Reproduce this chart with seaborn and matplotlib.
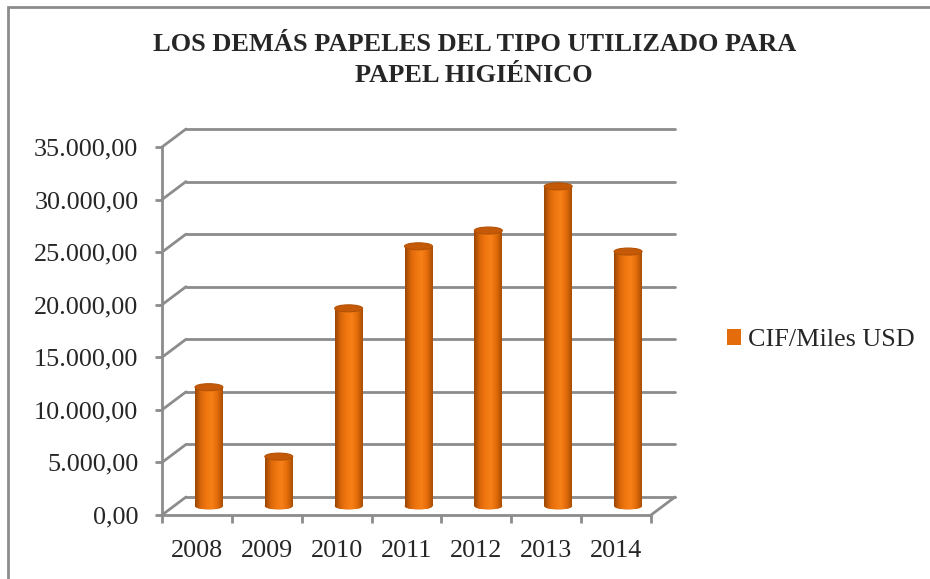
import numpy as np
import matplotlib
matplotlib.use("Agg")
import matplotlib.pyplot as plt
import matplotlib.transforms as mtransforms
from matplotlib.colors import LinearSegmentedColormap
from matplotlib.patches import Ellipse, Patch, Rectangle
import seaborn as sns

# datos
years = ["2008", "2009", "2010", "2011", "2012", "2013", "2014"]
cif_miles_usd = [11300, 4700, 18800, 24700, 26200, 30400, 24200]
y_ticks = [0, 5000, 10000, 15000, 20000, 25000, 30000, 35000]
serie = "CIF/Miles USD"
titulo = "LOS DEMÁS PAPELES DEL TIPO UTILIZADO PARA\nPAPEL HIGIÉNICO"

sns.set_theme(style="white")
plt.rcParams["font.family"] = ["Liberation Serif", "DejaVu Serif"]

gris = "#8c8c8c"
naranja = "#E46C0A"
W, H = 930, 579
fig = plt.figure(figsize=(W / 100, H / 100), dpi=100)

# plano frontal de la caja 3D
ax = fig.add_axes([162 / W, (H - 515) / H, (651 - 162) / W, (515 - 147) / H])
sns.barplot(x=years, y=cif_miles_usd, color=naranja, width=0.4, ax=ax, zorder=3)
ax.set_xlim(-0.5, len(years) - 0.5)
ax.set_ylim(0, 35000)

# desplazamientos de profundidad (pared del fondo y centro de las barras)
fondo = ax.transData + mtransforms.ScaledTranslation(0.24, 0.18, fig.dpi_scale_trans)
medio = ax.transData + mtransforms.ScaledTranslation(0.12, 0.09, fig.dpi_scale_trans)
ident = mtransforms.IdentityTransform()

x0, x1 = ax.get_xlim()
for t in y_ticks:
    ax.plot([x0, x1], [t, t], transform=fondo, color=gris, lw=2, clip_on=False, zorder=1)
    p0 = ax.transData.transform((x0, t))
    p1 = fondo.transform((x0, t))
    ax.plot([p0[0], p1[0]], [p0[1], p1[1]], transform=ident, color=gris, lw=2,
            clip_on=False, zorder=1)
# esquina derecha del piso
p0 = ax.transData.transform((x1, 0))
p1 = fondo.transform((x1, 0))
ax.plot([p0[0], p1[0]], [p0[1], p1[1]], transform=ident, color=gris, lw=2,
        clip_on=False, zorder=1)

# cilindros
px_por_unidad = (515 - 147) / 35000
alto_elipse = 7 / px_por_unidad
cmap = LinearSegmentedColormap.from_list(
    "cil", ["#9a4604", "#d8660a", "#f0760f", "#f78018", "#e46c0a", "#a94f05"])
grad = np.linspace(0, 1, 64).reshape(1, -1)

for bar in list(ax.patches):
    bx = bar.get_x()
    bw = bar.get_width()
    bh = bar.get_height()
    bar.set_transform(medio)
    bar.set_edgecolor("none")
    bar.set_zorder(3)
    base = Ellipse((bx + bw / 2, 0), bw, alto_elipse, transform=medio,
                   facecolor=naranja, edgecolor="none", zorder=2.9)
    ax.add_patch(base)
    for forma, y0, y1 in [(bar, 0, bh), (base, -alto_elipse / 2, alto_elipse / 2)]:
        im = ax.imshow(grad, extent=(bx, bx + bw, y0, y1), aspect="auto", cmap=cmap,
                       transform=medio, zorder=forma.get_zorder() + 0.05,
                       interpolation="bilinear")
        im.set_clip_path(forma)
    tapa = Ellipse((bx + bw / 2, bh), bw, alto_elipse, transform=medio,
                   facecolor="#c45a07", edgecolor="#b35206", lw=0.8, zorder=3.5)
    ax.add_patch(tapa)

ax.set_xlim(x0, x1)
ax.set_ylim(0, 35000)
ax.set_xlabel("")
ax.set_ylabel("")

# ejes
for s in ["top", "right"]:
    ax.spines[s].set_visible(False)
for s in ["left", "bottom"]:
    ax.spines[s].set_color(gris)
    ax.spines[s].set_linewidth(2)
    ax.spines[s].set_zorder(1)
ax.set_yticks(y_ticks)
ax.set_yticklabels([f"{v:,.2f}".replace(",", "X").replace(".", ",").replace("X", ".")
                    for v in y_ticks])
ax.set_xticks(range(len(years)))
ax.set_xticklabels(years)
ax.set_xticks(np.arange(-0.5, len(years)), minor=True)
ax.tick_params(axis="y", which="major", left=True, length=5, width=2, color=gris,
               labelsize=18.8, pad=12)
ax.tick_params(axis="x", which="major", bottom=False, labelsize=18.8, pad=12)
ax.tick_params(axis="x", which="minor", bottom=True, length=6, width=2, color=gris)
ax.grid(False)
ax.patch.set_alpha(0)

# leyenda
fig.legend(handles=[Patch(facecolor=naranja, edgecolor="none")], labels=[serie],
           loc="center left", bbox_to_anchor=(727 / W, 1 - 340 / H), frameon=False,
           fontsize=18.8, handlelength=0.55, handleheight=0.55, handletextpad=0.25,
           borderpad=0, borderaxespad=0)

# título
fig.text(0.510, 1 - 60 / H, titulo, ha="center", va="center", fontsize=19,
         fontweight="bold", linespacing=1.4)

# borde del gráfico
fig.patches.append(Rectangle((8 / W, -0.2), 1.2, 1.2 + (1 - 7 / H) - 1,
                             transform=fig.transFigure, fill=False, edgecolor=gris,
                             lw=2, zorder=0))

fig.savefig("out.png", dpi=100)
